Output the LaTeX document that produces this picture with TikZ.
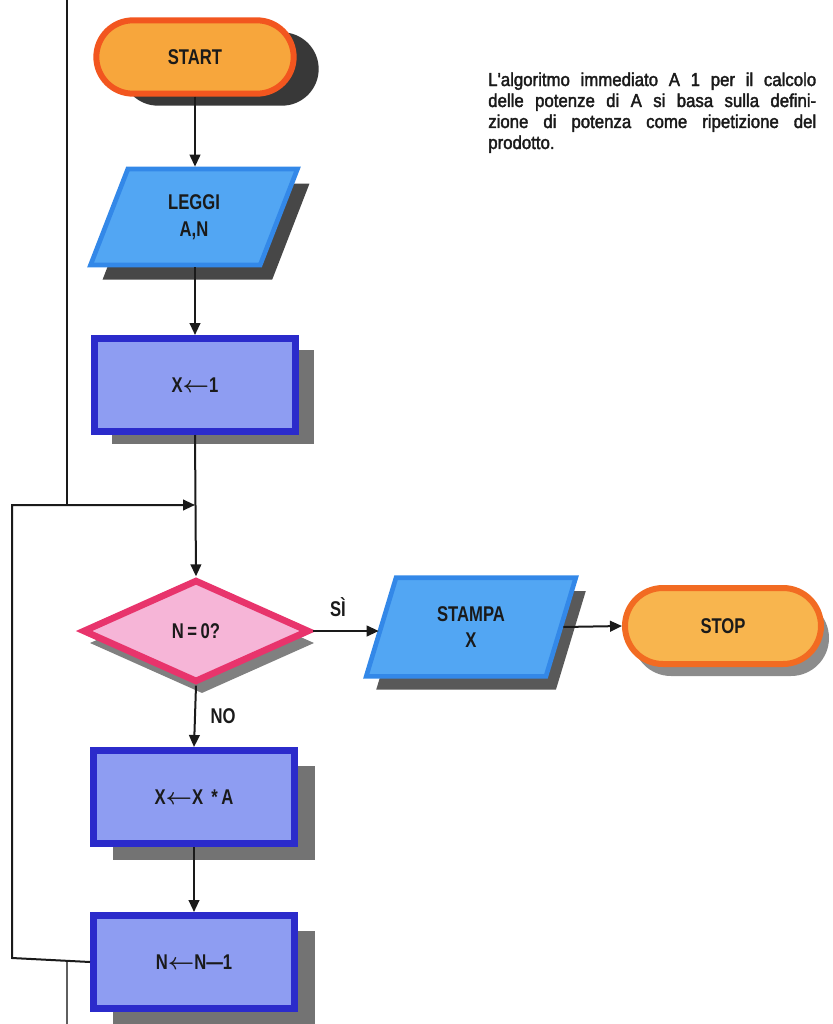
\documentclass[tikz,border=0pt]{standalone}
\usepackage{fontspec}
\setmainfont{Liberation Sans}
\newfontfamily\condsans[FakeStretch=0.78]{Liberation Sans}
\newfontfamily\parsans[FakeStretch=0.9,FakeBold=2]{Liberation Sans}
\usetikzlibrary{shapes.geometric,shapes.misc,shadows,arrows.meta,calc}

\definecolor{termfill}{HTML}{F7A63C}
\definecolor{termline}{HTML}{F2561F}
\definecolor{stopfill}{HTML}{F8B54E}
\definecolor{stopline}{HTML}{F26B22}
\definecolor{iofill}{HTML}{52A6F3}
\definecolor{ioline}{HTML}{3388E8}
\definecolor{procfill}{HTML}{8E9DF2}
\definecolor{procline}{HTML}{2B2BCB}
\definecolor{decfill}{HTML}{F6B5D7}
\definecolor{decline}{HTML}{E8346C}
\definecolor{ink}{HTML}{1A1A1A}

% assignment arrow used inside the process boxes
\newcommand{\assignarrow}{{\boldmath$\leftarrow$}}

\tikzset{
  lab/.style={font=\condsans\bfseries\fontsize{16}{20}\selectfont, text=ink, align=center},
  castshadow/.style args={#1,#2,#3}{drop shadow={shadow xshift=#1, shadow yshift=#2, fill=#3, opacity=1}},
  termbox/.style={lab, rounded rectangle, fill=termfill, draw=termline, line width=4.5pt,
    minimum width=148pt, minimum height=55pt, inner sep=0pt},
  iobox/.style={lab, trapezium, trapezium left angle=72, trapezium right angle=108,
    trapezium stretches=true, fill=iofill, draw=ioline, line width=3.5pt, inner sep=0pt},
  procbox/.style={lab, rectangle, fill=procfill, draw=procline, line width=5pt,
    minimum width=151pt, minimum height=70pt, inner sep=0pt},
  decbox/.style={lab, diamond, fill=decfill, draw=decline, line width=5pt,
    minimum width=170pt, minimum height=77pt, inner sep=0pt},
  arr/.style={line width=1.5pt, draw=ink, -{Triangle[length=9pt,width=8pt]}},
  wire/.style={line width=1.5pt, draw=ink},
  pageline/.style={line width=1pt, draw=ink!70},
}

\begin{document}
\begin{tikzpicture}[x=0.75pt,y=-0.75pt]
\useasboundingbox (0,0) rectangle (832,1024);

% page rule on the left
\coordinate (ptop) at (67,0);
\coordinate (pmid) at (67,505);
\coordinate (plow) at (67,961);
\coordinate (pbot) at (67,1024);
\draw[wire] (ptop) -- (pmid);
\draw[pageline] (plow) -- (pbot);

% flowchart blocks
\node[termbox, castshadow={18.75pt,-9pt,black!78}] (start) at (195,57) {START};
\node[iobox, minimum width=156pt, minimum height=72pt, castshadow={9pt,-11pt,black!72}] (leggi) at (194,217) {LEGGI\\A,N};
\node[procbox, castshadow={13.5pt,-9pt,black!55}] (x1) at (195,385) {X\assignarrow1};
\node[decbox, castshadow={4.5pt,-9pt,black!50}] (test) at (196,631) {N\,=\,0?};
\node[iobox, minimum width=158pt, minimum height=74pt, castshadow={7.5pt,-10pt,black!65}] (stampa) at (471,627) {STAMPA\\X};
\node[termbox, fill=stopfill, draw=stopline, minimum width=147pt, minimum height=57pt, castshadow={6pt,-9pt,black!45}] (stop) at (723,626) {STOP};
\node[procbox, castshadow={15pt,-12pt,black!55}] (xa) at (194,797) {X\assignarrow X \,*\,A};
\node[procbox, castshadow={15pt,-12pt,black!55}] (nm) at (194,962) {N\assignarrow N—1};

% connectors
\coordinate (join) at (195,505);
\coordinate (lb) at (12,958);
\coordinate (lt) at (12,505);
\draw[arr] (start.south) -- (start.south |- leggi.north);
\draw[arr] (x1.north |- leggi.south) -- (x1.north);
\draw[arr] (x1.south) -- (test.north);
\draw[arr] (test.east) -- (test.east -| stampa.west);
\draw[arr] (stampa.east) -- (stop.west);
\draw[arr] (test.south) -- (xa.north);
\draw[arr] (xa.south) -- (nm.north);
\draw[arr] (nm.west) -- (lb) -- (lt) -- (join);

% branch labels
\node[lab] (si) at (338,607) {SÌ};
\node[lab] (no) at (223,716) {NO};

% caption
\node[anchor=base west, inner sep=0pt, text=ink] (note) at (488,86) {\parbox[t]{246pt}{\parsans\fontsize{14}{15.75}\selectfont
\makebox[\linewidth][s]{L'algoritmo immediato A 1 per il calcolo}\\
\makebox[\linewidth][s]{delle potenze di A si basa sulla defini-}\\
\makebox[\linewidth][s]{zione di potenza come ripetizione del}\\
prodotto.}};
\end{tikzpicture}
\end{document}
